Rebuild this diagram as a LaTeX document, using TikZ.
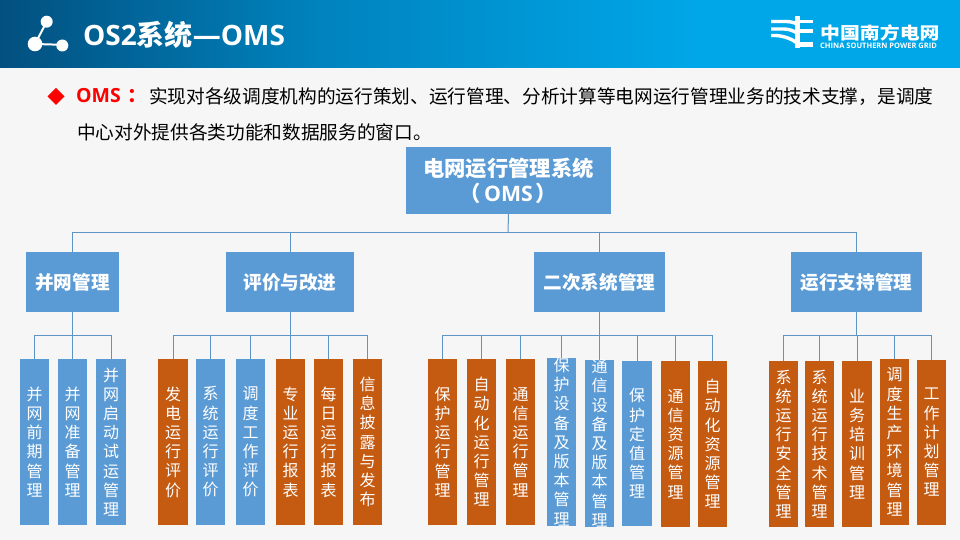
\documentclass[tikz,border=0pt]{standalone}
\usepackage{graphicx}
\usepackage{fontspec}
\setmainfont{Noto Sans CJK SC}
\newfontfamily\latinb[BoldFont={Open Sans Bold}]{Open Sans}
\definecolor{bgc}{HTML}{F6F6F6}
\definecolor{hdl}{HTML}{02507F}
\definecolor{hdm}{HTML}{0083BE}
\definecolor{hdr}{HTML}{00A7E8}
\definecolor{bluebox}{HTML}{5B9BD5}
\definecolor{orangebox}{HTML}{C55A11}
\definecolor{wire}{HTML}{5F95C4}
\definecolor{redc}{HTML}{FF0000}
\tikzset{
 x=1pt,y=-1pt,
 rootbox/.style={fill=bluebox,draw=none,inner sep=0pt,text=white,font=\fontsize{21.3}{25}\selectfont\bfseries,align=center},
 midbox/.style={fill=bluebox,draw=none,inner sep=0pt,text=white,font=\fontsize{18.6}{22}\selectfont\bfseries,align=center},
 leafb/.style={fill=bluebox,draw=none,inner sep=0pt,text=white,align=center,font=\fontsize{16}{19.2}\selectfont},
 leafo/.style={fill=orangebox,draw=none,inner sep=0pt,text=white,align=center,font=\fontsize{16}{19.2}\selectfont},
 wireline/.style={draw=wire,line width=1pt},
 body/.style={inner sep=0pt,font=\fontsize{18.67}{22}\selectfont,text=black,anchor=west},
 logow/.style={draw=white,line width=3.4pt},
}
\newcommand{\bx}[7]{\node[#2,minimum width=#5pt-#3pt,minimum height=#6pt-#4pt] (#1) at ({(#3+#5)/2},{(#4+#6)/2}) {#7};}
\begin{document}
\begin{tikzpicture}
\useasboundingbox (0,0) rectangle (960,540);
\fill[bgc] (0,0) rectangle (960,540);
\shade[left color=hdl,right color=hdm,shading angle=90] (0,0) rectangle (320,68);
\shade[left color=hdm,right color=hdr,shading angle=90] (320,0) rectangle (700,68);
\fill[hdr] (700,0) rectangle (960,68);
% header icon
\draw[white,line width=2pt] (46.7,21.7) -- (35,44) -- (62.3,44.8);
\fill[white] (46.7,21.7) circle (6) (35,44) circle (7.3) (62.3,45.5) circle (6);
\node[anchor=west,inner sep=0pt,text=white,font=\fontsize{28}{32}\selectfont\bfseries] (title) at (83,35) {{\latinb OS2}系统{\latinb—OMS}};
% logo
\draw[logow] (771,21.5) -- (786,21.5) .. controls (790,21.5) and (794,22.5) .. (797,24);
\draw[logow] (771,29) -- (784,29) .. controls (789,29) and (794,31) .. (797,33);
\draw[logow] (771,35.5) -- (776,35.5) .. controls (784,36) and (792,39) .. (797,43);
\draw[white,line width=5pt] (797.5,16) -- (797.5,48);
\draw[logow] (797,21.5) -- (813,21.5);
\draw[logow] (797,31) -- (813,31);
\draw[white,line width=4.4pt] (797,44.5) -- (813,44.5);
\node[anchor=west,inner sep=0pt,text=white,font=\fontsize{17}{20}\selectfont\bfseries] (lg1) at (820,33) {\scalebox{1.17}[1]{中国南方电网}};
\node[anchor=west,inner sep=0pt,text=white,font=\latinb\fontsize{7.5}{8}\selectfont\bfseries] (lg2) at (820,45.5) {CHINA SOUTHERN POWER GRID};
% bullet text
\fill[redc] (56,88) -- (64.5,96.5) -- (56,105) -- (47.5,96.5) -- cycle;
\node[anchor=west,inner sep=0pt,text=redc,font=\fontsize{19.5}{24}\selectfont\bfseries] (oms) at (76,96) {{\latinb OMS}\hspace{7pt}：};
\node[body] (l1) at (149,97) {实现对各级调度机构的运行策划、运行管理、分析计算等电网运行管理业务的技术支撑，是调度};
\node[body] (l2) at (77,132) {中心对外提供各类功能和数据服务的窗口。};
% boxes
\bx{root}{rootbox}{406}{147}{611}{214}{电网运行管理系统\\（\hspace{3pt}{\latinb OMS}\hspace{3pt}）}
\bx{m1}{midbox}{26}{252}{119}{312}{并网管理}
\bx{m2}{midbox}{226}{252}{354}{312}{评价与改进}
\bx{m3}{midbox}{534}{252}{665}{312}{二次系统管理}
\bx{m4}{midbox}{791}{252}{922}{312}{运行支持管理}
\bx{a1}{leafb}{20}{359}{49}{525}{并\\网\\前\\期\\管\\理}
\bx{a2}{leafb}{58}{359}{87}{525}{并\\网\\准\\备\\管\\理}
\bx{a3}{leafb}{96}{359}{126}{525}{并\\网\\启\\动\\试\\运\\管\\理}
\bx{b1}{leafo}{158}{359}{188}{525}{发\\电\\运\\行\\评\\价}
\bx{b2}{leafb}{196}{359}{225}{525}{系\\统\\运\\行\\评\\价}
\bx{b3}{leafb}{236}{359}{265}{525}{调\\度\\工\\作\\评\\价}
\bx{b4}{leafo}{276}{359}{305}{525}{专\\业\\运\\行\\报\\表}
\bx{b5}{leafo}{314}{359}{343}{525}{每\\日\\运\\行\\报\\表}
\bx{b6}{leafo}{353}{359}{382}{525}{信\\息\\披\\露\\与\\发\\布}
\bx{c1}{leafo}{428}{359}{457}{525}{保\\护\\运\\行\\管\\理}
\bx{c2}{leafo}{467}{359}{496}{525}{自\\动\\化\\运\\行\\管\\理}
\bx{c3}{leafo}{506}{359}{535}{525}{通\\信\\运\\行\\管\\理}
\bx{c4}{leafb}{547}{359}{576}{525}{保\\护\\设\\备\\及\\版\\本\\管\\理}
\bx{c5}{leafb}{585}{361}{614}{526}{通\\信\\设\\备\\及\\版\\本\\管\\理}
\bx{c6}{leafb}{622}{361}{652}{526}{保\\护\\定\\值\\管\\理}
\bx{c7}{leafo}{661}{361}{690}{527}{通\\信\\资\\源\\管\\理}
\bx{c8}{leafo}{698}{361}{727}{527}{自\\动\\化\\资\\源\\管\\理}
\bx{d1}{leafo}{769}{361}{798}{527}{系\\统\\运\\行\\安\\全\\管\\理}
\bx{d2}{leafo}{805}{361}{834}{527}{系\\统\\运\\行\\技\\术\\管\\理}
\bx{d3}{leafo}{842}{361}{872}{527}{业\\务\\培\\训\\管\\理}
\bx{d4}{leafo}{880}{359}{909}{525}{调\\度\\生\\产\\环\\境\\管\\理}
\bx{d5}{leafo}{917}{360}{946}{525}{工\\作\\计\\划\\管\\理}
% connectors: root to mid
\coordinate (busr) at (508,232);
\draw[wireline] (root.south) -- (busr);
\foreach \m in {m1,m2,m3,m4} \draw[wireline] (root.south |- busr) -| (\m.north);
% mid to leaves
\coordinate (bus1) at (72,335);
\coordinate (bus2) at (290,335);
\coordinate (bus3) at (599.5,335.5);
\coordinate (bus4) at (857,335.5);
\draw[wireline] (m1.south) -- (m1.south |- bus1);
\foreach \l in {a1,a2,a3} \draw[wireline] (m1.south |- bus1) -| (\l.north);
\draw[wireline] (m2.south) -- (m2.south |- bus2);
\foreach \l in {b1,b2,b3,b4,b5,b6} \draw[wireline] (m2.south |- bus2) -| (\l.north);
\draw[wireline] (m3.south) -- (m3.south |- bus3);
\foreach \l in {c1,c2,c3,c4,c5,c6,c7,c8} \draw[wireline] (m3.south |- bus3) -| (\l.north);
\draw[wireline] (m4.south) -- (m4.south |- bus4);
\foreach \l in {d1,d2,d3,d4,d5} \draw[wireline] (m4.south |- bus4) -| (\l.north);
\end{tikzpicture}
\end{document}
